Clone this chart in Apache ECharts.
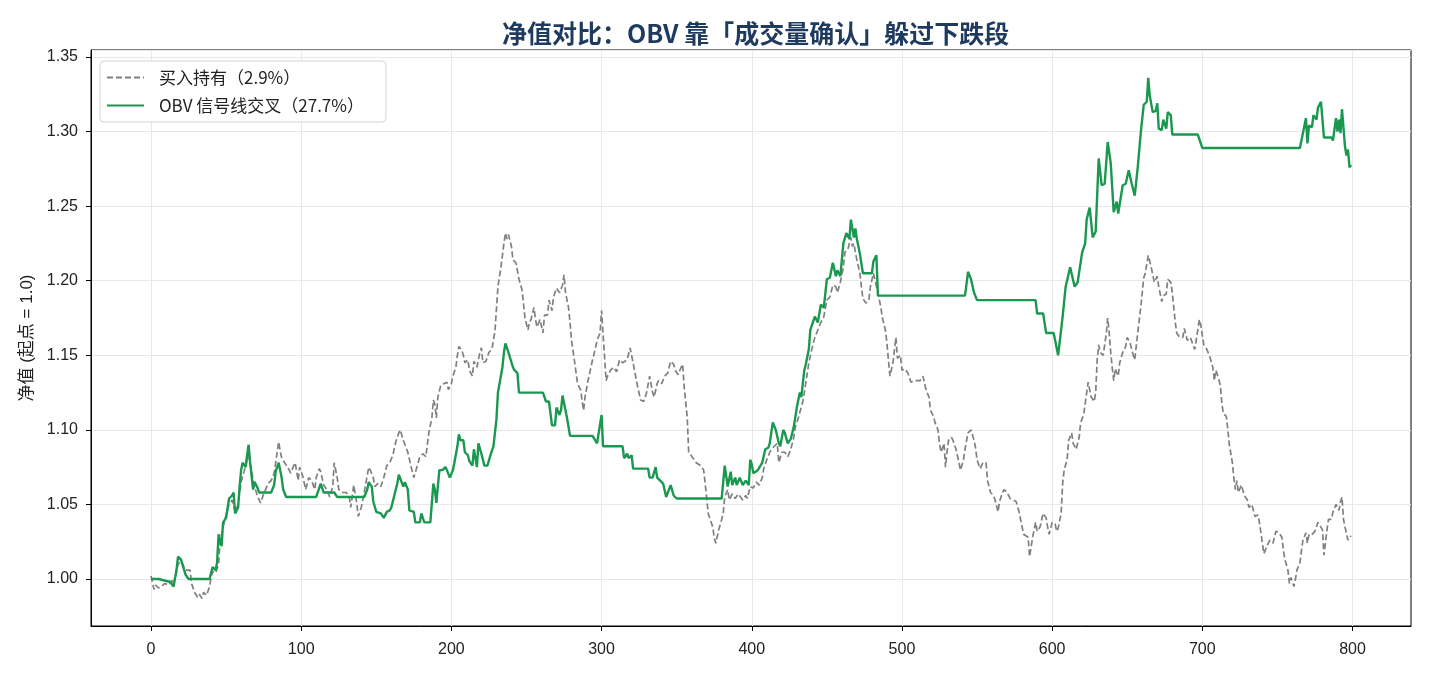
<!DOCTYPE html>
<html>
<head>
<meta charset="utf-8">
<title>净值对比</title>
<script src="https://cdn.jsdelivr.net/npm/echarts@6/dist/echarts.min.js"></script>
<style>
  html, body { margin: 0; padding: 0; background: #fff; }
  #chart { width: 1430px; height: 676px; }
</style>
</head>
<body>
<div id="chart"></div>
<script>
  // 买入持有 净值（t = 第几根K线）
  var holdT = [0,2,3,5,7,9,12,14,15,18,20,21,23,26,27,29,31,32,34,35,37,39,40,41,43,45,46,48,50,52,54,56,58,60,62,64,65,67,69,71,73,75,78,80,82,85,86,87,89,91,93,95,96,98,99,101,103,105,107,109,110,112,113,115,117,119,121,122,124,125,128,130,132,133,135,137,138,140,142,143,145,146,148,149,151,153,155,157,159,161,163,165,166,168,171,173,175,177,179,181,183,185,187,188,189,190,191,193,195,197,198,200,201,203,204,205,207,208,209,211,212,214,215,217,219,220,221,223,225,227,229,231,233,235,236,237,238,240,241,243,245,247,248,249,251,252,253,255,256,257,259,261,262,264,265,267,268,270,272,274,275,276,278,279,280,282,284,286,288,289,291,294,296,297,299,300,302,303,304,306,308,310,312,314,317,319,321,324,326,328,330,332,334,335,337,338,340,342,344,346,348,349,351,353,354,355,357,358,361,363,366,368,369,371,374,375,376,378,380,381,382,384,385,387,389,391,394,396,397,399,401,403,405,407,408,410,412,414,417,418,420,422,424,426,428,429,431,434,435,437,438,440,442,444,446,448,450,452,454,456,457,459,461,462,464,466,467,468,469,470,472,473,474,476,478,479,481,482,484,486,487,489,490,492,494,496,497,499,500,502,504,506,508,510,512,514,516,518,519,521,522,524,525,526,528,529,530,531,533,534,536,538,539,541,542,544,546,548,549,550,552,554,556,557,559,561,562,564,565,567,568,570,572,576,578,580,581,584,585,587,589,590,592,594,596,597,598,600,602,603,604,606,607,608,610,611,613,614,616,618,619,621,623,624,626,628,629,630,631,632,634,636,637,638,639,640,641,642,644,645,647,649,650,652,654,655,657,659,661,662,664,666,668,669,670,671,673,674,676,677,679,680,681,682,683,685,687,688,690,692,695,697,698,699,701,703,705,707,708,709,710,712,713,714,716,717,718,720,721,722,723,724,726,727,728,730,731,733,735,737,738,740,741,743,745,747,749,751,753,754,755,757,758,759,761,762,763,765,766,767,769,770,771,773,775,777,778,780,781,783,784,786,787,789,791,792,793,794,795,797,798,799];
  var holdV = [1.002,0.993,0.996,0.994,0.995,0.997,0.996,0.999,0.996,1.010,1.012,1.013,1.006,1.006,0.997,0.991,0.988,0.990,0.987,0.991,0.989,0.995,1.001,1.005,1.004,1.010,1.025,1.035,1.043,1.050,1.053,1.045,1.050,1.065,1.072,1.080,1.083,1.072,1.062,1.055,1.051,1.057,1.064,1.066,1.071,1.092,1.086,1.081,1.078,1.075,1.071,1.076,1.078,1.066,1.075,1.069,1.060,1.068,1.066,1.060,1.068,1.074,1.072,1.063,1.060,1.055,1.062,1.078,1.068,1.060,1.058,1.058,1.055,1.048,1.063,1.051,1.042,1.048,1.058,1.064,1.075,1.073,1.068,1.062,1.064,1.062,1.068,1.076,1.078,1.083,1.092,1.098,1.100,1.093,1.085,1.076,1.068,1.075,1.082,1.084,1.082,1.098,1.108,1.120,1.117,1.108,1.122,1.130,1.131,1.132,1.127,1.131,1.136,1.142,1.150,1.156,1.153,1.150,1.145,1.147,1.140,1.136,1.146,1.142,1.152,1.155,1.145,1.146,1.152,1.154,1.166,1.196,1.209,1.225,1.232,1.228,1.231,1.223,1.214,1.212,1.201,1.194,1.185,1.175,1.167,1.172,1.174,1.182,1.174,1.169,1.174,1.165,1.177,1.177,1.187,1.180,1.189,1.195,1.192,1.197,1.204,1.192,1.182,1.172,1.160,1.146,1.131,1.127,1.113,1.122,1.133,1.147,1.155,1.160,1.165,1.180,1.149,1.133,1.136,1.140,1.142,1.139,1.147,1.145,1.147,1.155,1.145,1.129,1.120,1.119,1.125,1.136,1.125,1.122,1.131,1.133,1.131,1.136,1.138,1.146,1.144,1.140,1.137,1.142,1.144,1.129,1.109,1.085,1.081,1.078,1.076,1.073,1.064,1.044,1.035,1.028,1.024,1.033,1.040,1.044,1.055,1.060,1.053,1.057,1.054,1.057,1.053,1.056,1.054,1.062,1.061,1.065,1.063,1.068,1.074,1.080,1.085,1.088,1.091,1.078,1.085,1.085,1.082,1.087,1.095,1.102,1.108,1.119,1.125,1.138,1.145,1.154,1.162,1.167,1.172,1.176,1.187,1.189,1.197,1.196,1.192,1.199,1.209,1.219,1.221,1.229,1.223,1.225,1.219,1.214,1.205,1.196,1.188,1.185,1.187,1.196,1.205,1.206,1.192,1.182,1.175,1.167,1.158,1.136,1.145,1.162,1.148,1.150,1.140,1.141,1.138,1.132,1.133,1.133,1.133,1.136,1.127,1.122,1.113,1.109,1.105,1.100,1.091,1.085,1.091,1.075,1.085,1.093,1.095,1.093,1.087,1.078,1.073,1.080,1.087,1.098,1.100,1.093,1.088,1.080,1.074,1.078,1.078,1.066,1.058,1.056,1.053,1.045,1.052,1.058,1.060,1.058,1.054,1.052,1.045,1.035,1.030,1.028,1.015,1.028,1.038,1.032,1.035,1.044,1.041,1.035,1.030,1.038,1.037,1.032,1.034,1.044,1.064,1.073,1.080,1.093,1.098,1.091,1.087,1.095,1.105,1.110,1.125,1.132,1.122,1.119,1.125,1.147,1.157,1.152,1.150,1.164,1.175,1.165,1.152,1.142,1.133,1.141,1.136,1.145,1.152,1.156,1.162,1.158,1.150,1.147,1.165,1.182,1.202,1.205,1.217,1.209,1.199,1.199,1.203,1.196,1.186,1.190,1.191,1.201,1.199,1.192,1.182,1.172,1.165,1.162,1.162,1.168,1.160,1.162,1.154,1.167,1.174,1.170,1.157,1.154,1.149,1.142,1.133,1.140,1.137,1.130,1.118,1.111,1.109,1.100,1.090,1.078,1.068,1.060,1.066,1.058,1.063,1.062,1.056,1.053,1.048,1.050,1.042,1.043,1.038,1.024,1.017,1.022,1.026,1.024,1.032,1.031,1.028,1.019,1.013,1.006,0.997,1.001,0.995,1.000,1.006,1.011,1.019,1.026,1.031,1.024,1.030,1.030,1.032,1.038,1.038,1.033,1.016,1.033,1.040,1.040,1.045,1.050,1.046,1.052,1.055,1.040,1.035,1.026,1.028,1.029];

  // OBV 信号线交叉 净值
  var obvT = [0,5,13,15,17,18,20,21,23,25,39,40,41,43,44,45,47,48,50,52,53,54,55,56,58,59,60,61,63,64,65,66,68,69,71,72,80,82,83,85,87,88,90,110,112,113,115,122,124,142,144,145,147,148,150,153,155,157,159,160,162,164,165,166,168,169,171,172,175,176,179,180,182,186,188,189,190,192,194,196,197,199,201,202,204,205,206,208,209,211,212,214,215,217,218,220,222,224,226,228,230,231,232,234,235,236,238,239,241,242,244,245,261,263,265,267,269,270,272,273,274,276,277,279,294,297,298,300,301,312,314,315,317,318,320,321,331,332,334,336,337,341,343,344,346,348,350,380,382,384,386,387,389,390,392,394,396,398,399,400,401,404,407,408,409,411,412,414,416,418,419,421,422,424,426,428,430,432,433,435,436,438,439,442,444,446,448,450,452,454,456,457,459,461,463,465,466,468,469,470,472,474,480,481,483,484,542,544,546,548,550,589,590,594,596,601,604,607,609,612,615,617,620,622,623,625,627,629,631,633,635,637,639,641,643,644,647,649,651,653,655,657,659,661,663,664,665,667,669,670,671,673,674,676,677,679,680,697,700,765,767,769,770,771,773,774,776,777,779,781,786,787,789,790,791,792,793,795,796,797,798,799];
  var obvV = [1.000,1.000,0.998,0.995,1.006,1.015,1.013,1.014,1.003,1.000,1.000,1.004,1.008,1.006,1.011,1.030,1.022,1.038,1.041,1.054,1.053,1.056,1.058,1.044,1.048,1.062,1.073,1.078,1.075,1.083,1.090,1.078,1.060,1.065,1.061,1.058,1.058,1.063,1.072,1.078,1.068,1.060,1.055,1.055,1.061,1.064,1.058,1.058,1.055,1.055,1.060,1.065,1.062,1.052,1.045,1.044,1.041,1.045,1.046,1.048,1.056,1.064,1.070,1.070,1.062,1.065,1.060,1.046,1.045,1.038,1.038,1.044,1.038,1.038,1.064,1.060,1.051,1.073,1.073,1.075,1.073,1.068,1.073,1.078,1.089,1.097,1.093,1.093,1.085,1.083,1.079,1.076,1.087,1.075,1.091,1.084,1.076,1.076,1.083,1.089,1.107,1.125,1.126,1.142,1.152,1.158,1.152,1.152,1.142,1.140,1.138,1.125,1.125,1.119,1.119,1.103,1.103,1.115,1.110,1.113,1.123,1.113,1.108,1.096,1.096,1.091,1.091,1.110,1.089,1.089,1.089,1.081,1.084,1.081,1.083,1.074,1.074,1.068,1.068,1.075,1.068,1.064,1.055,1.056,1.063,1.056,1.054,1.054,1.076,1.062,1.072,1.063,1.068,1.063,1.068,1.063,1.066,1.063,1.080,1.077,1.071,1.073,1.078,1.077,1.087,1.088,1.091,1.105,1.100,1.091,1.089,1.100,1.098,1.091,1.094,1.102,1.115,1.125,1.122,1.140,1.144,1.154,1.167,1.176,1.172,1.184,1.182,1.201,1.202,1.212,1.203,1.207,1.203,1.225,1.232,1.228,1.241,1.229,1.235,1.228,1.218,1.205,1.205,1.213,1.217,1.190,1.190,1.206,1.201,1.192,1.187,1.187,1.178,1.178,1.165,1.165,1.150,1.176,1.196,1.209,1.196,1.199,1.219,1.225,1.241,1.249,1.229,1.233,1.282,1.264,1.265,1.293,1.279,1.246,1.253,1.245,1.264,1.265,1.274,1.265,1.257,1.276,1.299,1.318,1.320,1.336,1.324,1.313,1.314,1.319,1.302,1.301,1.308,1.302,1.313,1.311,1.298,1.298,1.289,1.289,1.299,1.309,1.292,1.304,1.303,1.311,1.308,1.316,1.320,1.296,1.296,1.294,1.309,1.300,1.308,1.299,1.315,1.290,1.284,1.288,1.276,1.278];

  var xTicks = [0, 100, 200, 300, 400, 500, 600, 700, 800];
  var seriesNames = ['买入持有（2.9%）', 'OBV 信号线交叉（27.7%）'];

  function zip(ts, vs) {
    return ts.map(function (t, i) { return [t, vs[i]]; });
  }

  var fontFam = '"Liberation Sans", "Noto Sans CJK SC", sans-serif';
  var cjkFam = '"Noto Sans CJK SC", sans-serif';
  var myChart = echarts.init(document.getElementById('chart'));

  var option = {
    backgroundColor: '#fff',
    animation: false,
    textStyle: { fontFamily: fontFam },
    title: {
      text: '净值对比：OBV 靠「成交量确认」躲过下跌段',
      left: 497,
      top: 16,
      textStyle: {
        color: '#1f3a5f',
        fontSize: 25,
        fontWeight: 'bold',
        fontFamily: cjkFam
      }
    },
    grid: {
      left: 91,
      right: 19,
      top: 50,
      bottom: 50,
      show: true,
      borderColor: '#000',
      borderWidth: 1,
      backgroundColor: 'transparent'
    },
    legend: {
      orient: 'vertical',
      left: 100,
      top: 61,
      padding: [8, 22, 8, 6],
      itemWidth: 37,
      itemHeight: 14,
      itemGap: 11,
      backgroundColor: '#fff',
      borderColor: '#d5d5d5',
      borderWidth: 1,
      borderRadius: 4,
      itemStyle: { opacity: 0 },
      textStyle: { fontSize: 17, color: '#222', fontFamily: cjkFam, padding: [0, 0, 0, 10] },
      data: seriesNames
    },
    xAxis: {
      type: 'value',
      min: -39.95,
      max: 838.95,
      splitNumber: 9,
      axisLine: { show: true, onZero: false, lineStyle: { color: '#000', width: 1 } },
      axisTick: { show: true, length: 5, lineStyle: { color: '#000' }, customValues: xTicks },
      axisLabel: { color: '#222', fontSize: 16, margin: 16, customValues: xTicks },
      splitLine: { show: true, lineStyle: { color: '#e8e8e8', width: 1 } }
    },
    yAxis: {
      type: 'value',
      min: 0.9685,
      max: 1.3547,
      splitNumber: 8,
      name: '净值 (起点 = 1.0)',
      nameLocation: 'middle',
      nameGap: 52,
      nameTextStyle: { fontSize: 17, color: '#222', fontFamily: fontFam },
      axisLine: { show: true, onZero: false, lineStyle: { color: '#000', width: 1 } },
      axisTick: { show: true, length: 5, lineStyle: { color: '#000' } },
      axisLabel: {
        color: '#222',
        fontSize: 16,
        margin: 13,
        showMinLabel: false,
        showMaxLabel: false,
        formatter: function (val) { return val.toFixed(2); }
      },
      splitLine: { show: true, lineStyle: { color: '#e8e8e8', width: 1 } }
    },
    series: [
      {
        name: seriesNames[0],
        type: 'line',
        symbol: 'none',
        color: '#808080',
        lineStyle: { color: '#808080', width: 1.7, type: [6, 3] },
        data: zip(holdT, holdV),
        z: 2
      },
      {
        name: seriesNames[1],
        type: 'line',
        symbol: 'none',
        color: '#1a9850',
        lineStyle: { color: '#1a9850', width: 2.4 },
        data: zip(obvT, obvV),
        z: 3
      }
    ]
  };

  myChart.setOption(option);
</script>
</body>
</html>
